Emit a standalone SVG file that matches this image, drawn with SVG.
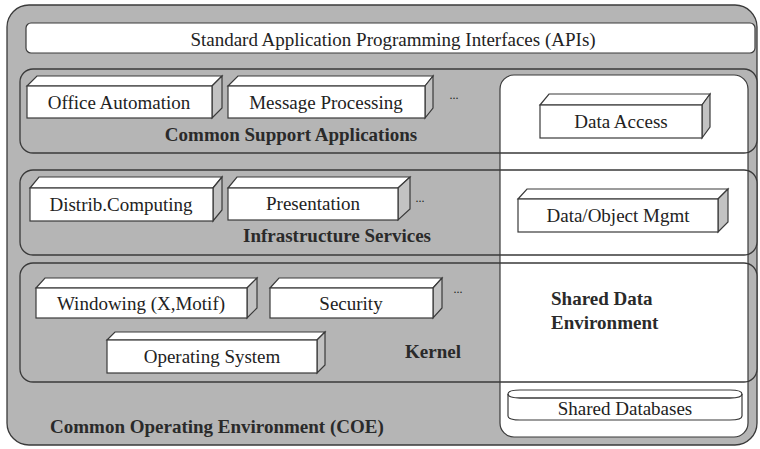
<svg xmlns="http://www.w3.org/2000/svg" width="760" height="449" viewBox="0 0 760 449">
<style>
.ln{stroke:#3a3a3a;stroke-width:1.3;fill:none}
.gray{fill:#b5b5b5;stroke:#3a3a3a;stroke-width:1.3}
.wh{fill:#fff;stroke:#3a3a3a;stroke-width:1.2}
.side{fill:#c2c2c2;stroke:#3a3a3a;stroke-width:1.2}
text{font-family:"Liberation Serif","DejaVu Serif",serif}
.t{font-size:19px;fill:#222;text-anchor:middle}
.b{font-size:19px;font-weight:bold;fill:#2a2a2a}
.m{text-anchor:middle}
.d{font-size:12px;fill:#222}
</style>
<defs>
<clipPath id="clipSDE"><rect x="500" y="75" width="248" height="362" rx="14"/></clipPath>
</defs>
<g id="coe">
<rect class="gray" x="7" y="5" width="750" height="440" rx="22"/>
<text class="b" x="50" y="433">Common Operating Environment (COE)</text>
</g>
<g id="api">
<rect class="wh" x="26" y="23" width="729" height="30" rx="5"/>
<text class="t" x="393" y="46">Standard Application Programming Interfaces (APIs)</text>
</g>
<g id="rows">
<rect class="gray" x="20" y="69" width="737" height="84" rx="13"/>
<rect class="gray" x="20" y="170" width="737" height="85" rx="13"/>
<rect class="gray" x="20" y="263" width="737" height="119" rx="13"/>
</g>
<g id="sde">
<rect class="wh" x="500" y="75" width="248" height="362" rx="14"/>
<g clip-path="url(#clipSDE)">
<rect class="ln" x="20" y="69" width="737" height="84" rx="13"/>
<rect class="ln" x="20" y="170" width="737" height="85" rx="13"/>
<rect class="ln" x="20" y="263" width="737" height="119" rx="13"/>
</g>
<text class="b" x="551" y="305">Shared Data</text>
<text class="b" x="551" y="329">Environment</text>
</g>
<g id="csa-label"><text class="b m" x="291" y="141">Common Support Applications</text></g>
<g id="infra-label"><text class="b m" x="337" y="242">Infrastructure Services</text></g>
<g id="kernel-label"><text class="b m" x="433" y="358">Kernel</text></g>
<g id="office">
<path class="wh" d="M27 86 L37 76 L222 76 L212 86 Z"/>
<path class="side" d="M212 86 L222 76 L222 108 L212 118 Z"/>
<rect class="wh" x="27" y="86" width="185" height="32"/>
<text class="t" x="119" y="109">Office Automation</text>
</g>
<g id="message">
<path class="wh" d="M228 86 L238 76 L433 76 L425 86 Z"/>
<path class="side" d="M425 86 L433 76 L433 108 L425 118 Z"/>
<rect class="wh" x="228" y="86" width="197" height="32"/>
<text class="t" x="326" y="109">Message Processing</text>
</g>
<g id="dots1"><text class="t d" x="454" y="99">...</text></g>
<g id="dataaccess">
<path class="wh" d="M540 105 L549 94 L710 94 L702 105 Z"/>
<path class="side" d="M702 105 L710 94 L710 127 L702 138 Z"/>
<rect class="wh" x="540" y="105" width="162" height="33"/>
<text class="t" x="621" y="128">Data Access</text>
</g>
<g id="distrib">
<path class="wh" d="M30 188 L39 177 L222 177 L213 188 Z"/>
<path class="side" d="M213 188 L222 177 L222 210 L213 221 Z"/>
<rect class="wh" x="30" y="188" width="183" height="33"/>
<text class="t" x="121" y="211">Distrib.Computing</text>
</g>
<g id="presentation">
<path class="wh" d="M228 188 L237 177 L410 177 L398 188 Z"/>
<path class="side" d="M398 188 L410 177 L410 209 L398 220 Z"/>
<rect class="wh" x="228" y="188" width="170" height="32"/>
<text class="t" x="313" y="210">Presentation</text>
</g>
<g id="dots2"><text class="t d" x="420" y="202">...</text></g>
<g id="dataobject">
<path class="wh" d="M518 199 L527 189 L728 189 L718 199 Z"/>
<path class="side" d="M718 199 L728 189 L728 222 L718 232 Z"/>
<rect class="wh" x="518" y="199" width="200" height="33"/>
<text class="t" x="618" y="222">Data/Object Mgmt</text>
</g>
<g id="windowing">
<path class="wh" d="M36 288 L45 278 L257 278 L247 288 Z"/>
<path class="side" d="M247 288 L257 278 L257 308 L247 318 Z"/>
<rect class="wh" x="36" y="288" width="211" height="30"/>
<text class="t" x="141" y="310">Windowing (X,Motif)</text>
</g>
<g id="security">
<path class="wh" d="M270 288 L279 278 L442 278 L433 288 Z"/>
<path class="side" d="M433 288 L442 278 L442 308 L433 318 Z"/>
<rect class="wh" x="270" y="288" width="163" height="30"/>
<text class="t" x="351" y="310">Security</text>
</g>
<g id="dots3"><text class="t d" x="458" y="293">...</text></g>
<g id="os">
<path class="wh" d="M107 340 L115 332 L325 332 L317 340 Z"/>
<path class="side" d="M317 340 L325 332 L325 365 L317 373 Z"/>
<rect class="wh" x="107" y="340" width="210" height="33"/>
<text class="t" x="212" y="363">Operating System</text>
</g>
<g id="shareddb">
<path class="wh" d="M508 394 Q508 390 520 390 L730 390 Q742 390 742 394 L742 416 Q742 420 730 420 L520 420 Q508 420 508 416 Z"/>
<path class="ln" d="M508 394 Q508 398 520 398 L730 398 Q742 398 742 394"/>
<text class="t" x="625" y="415">Shared Databases</text>
</g>
</svg>
